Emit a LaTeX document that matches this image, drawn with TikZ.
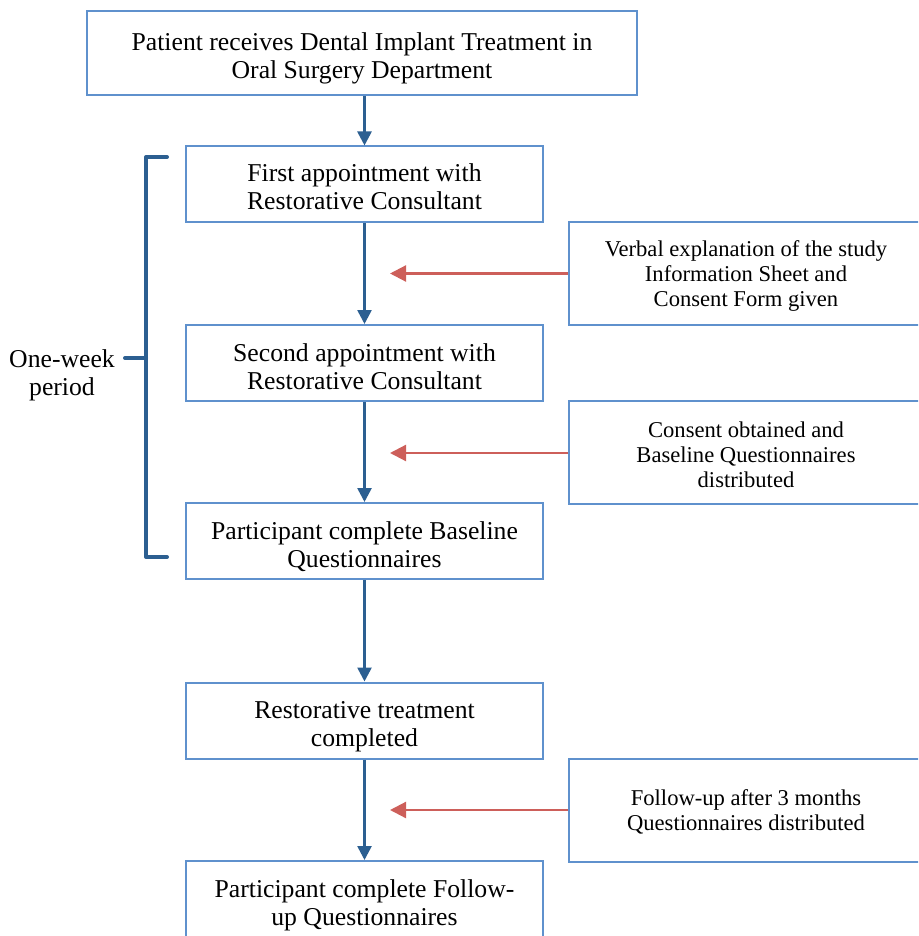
\documentclass[tikz,border=0pt]{standalone}
\usepackage{fontspec}
\setmainfont{Liberation Serif}
\usetikzlibrary{arrows.meta}
\definecolor{boxline}{RGB}{95,145,205}
\definecolor{flowblue}{RGB}{44,95,145}
\definecolor{noteRed}{RGB}{205,95,90}
% centred block of lines, shifted vertically by \liftamt without taking up room
\def\liftamt{0pt}
\newcommand{\lines}[1]{\raisebox{\liftamt}[0pt][0pt]{\begin{tabular}{@{}c@{}}#1\end{tabular}}}
\begin{document}
\begin{tikzpicture}[x=0.5pt,y=-0.5pt,
  lift/.code={\def\liftamt{#1}},
  every node/.style={font=\fontsize{12.85}{14}\selectfont, inner sep=0pt, lift=-6.4pt},
  stepbox/.style={draw=boxline, line width=1pt, minimum width=178.5pt, minimum height=38pt},
  notebox/.style={draw=boxline, line width=1pt, minimum width=177pt, minimum height=51.5pt,
    font=\fontsize{11.3}{12.5}\selectfont, lift=-4.2pt},
  flow/.style={draw=flowblue, line width=1.3pt, -{Triangle[width=7pt,length=7pt]}},
  note/.style={draw=noteRed, line width=1.1pt, -{Triangle[width=8pt,length=8pt]}},
  brace/.style={draw=flowblue, line width=2pt, line cap=round, line join=round}]
\useasboundingbox (0,0) rectangle (918,936);
\clip (0,0) rectangle (918,936);

% main flow
\node[stepbox, minimum width=275pt, minimum height=42pt, lift=-6.2pt] (top) at (362,53)
  {\lines{Patient receives Dental Implant Treatment in\\Oral Surgery Department}};
\node[stepbox, lift=-5.5pt] (s1) at (364.5,184.5) {\lines{First appointment with\\Restorative Consultant}};
\node[stepbox] (s2) at (364.5,363) {\lines{Second appointment with\\Restorative Consultant}};
\node[stepbox] (s3) at (364.5,541) {\lines{Participant complete Baseline\\Questionnaires}};
\node[stepbox] (s4) at (364.5,720.5) {\lines{Restorative treatment\\completed}};
\node[stepbox] (s5) at (364.5,899) {\lines{Participant complete Follow-\\up Questionnaires}};

\draw[flow] (top.south -| s1) -- (s1);
\draw[flow] (s1) -- (s2);
\draw[flow] (s2) -- (s3);
\draw[flow] (s3) -- (s4);
\draw[flow] (s4) -- (s5);

% notes on the right
\node[notebox] (n1) at (746,273.5) {\lines{Verbal explanation of the study\\Information Sheet and\\Consent Form given}};
\node[notebox, lift=-5.5pt] (n2) at (746,452) {\lines{Consent obtained and\\Baseline Questionnaires\\distributed}};
\node[notebox] (n3) at (746,810) {\lines{Follow-up after 3 months\\Questionnaires distributed}};

\coordinate (t1) at (390,273.5);
\coordinate (t2) at (390,453);
\coordinate (t3) at (390,810);
\draw[note] (n1.west) -- (t1);
\draw[note] (n2.west |- t2) -- (t2);
\draw[note] (n3.west) -- (t3);

% one-week bracket
\coordinate (bTop) at (167,157);
\coordinate (bBot) at (167,557);
\coordinate (bMid) at (146,358);
\coordinate (bTick) at (125,358);
\draw[brace] (bTop) -- (146,157) -- (146,557) -- (bBot);
\draw[brace] (bMid) -- (bTick);
\node[lift=-5.4pt] (lbl) at (62,371) {\lines{One-week\\period}};
\end{tikzpicture}
\end{document}
